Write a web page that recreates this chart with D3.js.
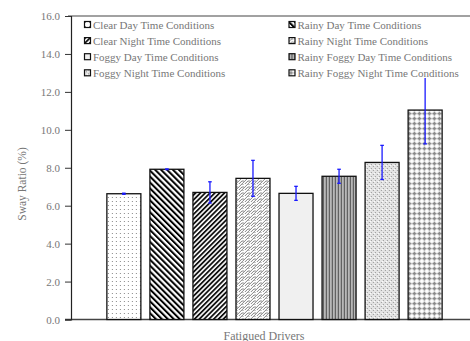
<!DOCTYPE html>
<html>
<head>
<meta charset="utf-8">
<script src="https://cdn.jsdelivr.net/npm/d3@7"></script>
<style>
  body { margin: 0; background: #fff; }
  text { font-family: "Liberation Serif", "Times New Roman", serif; fill: #777; }
</style>
</head>
<body>
<div id="chart"></div>
<script>
// chart data
var groups = ["Fatigued Drivers"];
var conditions = [
  "Clear Day Time Conditions", "Rainy Day Time Conditions",
  "Clear Night Time Conditions", "Rainy Night Time Conditions",
  "Foggy Day Time Conditions", "Rainy Foggy Day Time Conditions",
  "Foggy Night Time Conditions", "Rainy Foggy Night Time Conditions"
];
var swayRatio = [6.63, 7.92, 6.70, 7.44, 6.65, 7.55, 8.28, 11.04];
var swayError = [0.03, 0.02, 0.56, 0.95, 0.37, 0.37, 0.90, 1.78];
var yTicks = [0, 2, 4, 6, 8, 10, 12, 14, 16];

var margin = {top: 16, right: -8, bottom: 21.5, left: 71},
    width = 470 - margin.left - margin.right,
    height = 341 - margin.top - margin.bottom;

var svg = d3.select("#chart").append("svg")
    .attr("width", 470)
    .attr("height", 341);

// fill patterns, one per condition
var defs = svg.append("defs");
function pat(id, w, h, rot) {
  var p = defs.append("pattern").attr("id", id)
      .attr("patternUnits", "userSpaceOnUse")
      .attr("width", w).attr("height", h);
  if (rot) p.attr("patternTransform", "rotate(" + rot + ")");
  p.append("rect").attr("width", w).attr("height", h).attr("fill", "#fff");
  return p;
}
var p;
p = pat("p0", 4, 4);
p.append("rect").attr("x", 1).attr("y", 1).attr("width", 1).attr("height", 1).attr("fill", "#888");
p = pat("p1", 4.2, 4.2, -45);
p.append("rect").attr("width", 2).attr("height", 4.2).attr("fill", "#000");
p = pat("p2", 3.4, 3.4, 45);
p.append("rect").attr("width", 1.8).attr("height", 3.4).attr("fill", "#111");
p = pat("p3", 6, 6);
p.append("path").attr("d", "M0,6 L3,3 L5,3 M3,6 L6,3 M0,3 L3,0 L5,0").attr("stroke", "#777").attr("stroke-width", 0.9).attr("fill", "none");
p = pat("p4", 4, 4);
p.select("rect").attr("fill", "#f0f0f0");
p = pat("p5", 3, 3);
p.append("rect").attr("width", 1.2).attr("height", 3).attr("fill", "#555");
p.append("rect").attr("x", 1.2).attr("width", 1.8).attr("height", 3).attr("fill", "#b0b0b0");
p = pat("p6", 4, 4);
p.select("rect").attr("fill", "#e4e4e4");
p.append("rect").attr("x", 0).attr("y", 0).attr("width", 1).attr("height", 1).attr("fill", "#999");
p.append("rect").attr("x", 2).attr("y", 2).attr("width", 1).attr("height", 1).attr("fill", "#999");
p.append("rect").attr("x", 3).attr("y", 1).attr("width", 1).attr("height", 1).attr("fill", "#fff");
p = pat("p7", 5, 5);
p.append("rect").attr("x", 0.5).attr("y", 1.8).attr("width", 4).attr("height", 1.6).attr("fill", "#888");
p.append("rect").attr("x", 1.7).attr("y", 0.6).attr("width", 1.6).attr("height", 4).attr("fill", "#888");

var g = svg.append("g")
    .attr("transform", "translate(" + margin.left + "," + margin.top + ")");

var x0 = d3.scaleBand().domain(groups).range([0, width]).paddingOuter(0.107);
var x1 = d3.scaleBand().domain(conditions).range([0, x0.bandwidth()]).paddingInner(0.21);
var y = d3.scaleLinear().domain([0, 16]).range([height, 0]);

// plot frame
g.append("line").attr("x1", -3).attr("x2", width).attr("y1", 0).attr("y2", 0)
    .attr("stroke", "#444").attr("stroke-width", 1.2);
g.append("line").attr("x1", -6).attr("x2", width).attr("y1", height).attr("y2", height)
    .attr("stroke", "#444").attr("stroke-width", 1.5);

var yAxis = d3.axisLeft(y).tickValues(yTicks).tickSize(6).tickPadding(5)
    .tickFormat(d3.format(".1f"));
var ya = g.append("g").attr("class", "y axis").call(yAxis);
ya.select(".domain").attr("stroke", "#222").attr("stroke-width", 1.2);
ya.selectAll(".tick line").attr("stroke", "#333");
ya.selectAll("text").style("font-size", "11px").style("font-family", "Liberation Serif").attr("fill", "#777");

// bars
var grp = g.selectAll(".grp").data(groups).enter().append("g")
    .attr("transform", function(d) { return "translate(" + x0(d) + ",0)"; });

grp.selectAll("rect.bar")
    .data(conditions.map(function(c, i) { return {c: c, v: swayRatio[i], e: swayError[i], i: i}; }))
    .enter().append("rect")
    .attr("class", "bar")
    .attr("x", function(d) { return x1(d.c); })
    .attr("width", x1.bandwidth())
    .attr("y", function(d) { return y(d.v); })
    .attr("height", function(d) { return height - y(d.v); })
    .attr("fill", function(d) { return "url(#p" + d.i + ")"; })
    .attr("stroke", "#111")
    .attr("stroke-width", 1.3);

// error bars
var eb = grp.selectAll("g.err")
    .data(conditions.map(function(c, i) { return {c: c, v: swayRatio[i], e: swayError[i]}; }))
    .enter().append("g").attr("class", "err")
    .attr("stroke", "#1a1aff").attr("stroke-width", 1.3);
eb.append("line")
    .attr("x1", function(d) { return x1(d.c) + x1.bandwidth() / 2; })
    .attr("x2", function(d) { return x1(d.c) + x1.bandwidth() / 2; })
    .attr("y1", function(d) { return y(d.v + d.e); })
    .attr("y2", function(d) { return y(d.v - d.e); });
[1, -1].forEach(function(s) {
  eb.append("line")
    .attr("x1", function(d) { return x1(d.c) + x1.bandwidth() / 2 - 1.8; })
    .attr("x2", function(d) { return x1(d.c) + x1.bandwidth() / 2 + 1.8; })
    .attr("y1", function(d) { return y(d.v + s * d.e); })
    .attr("y2", function(d) { return y(d.v + s * d.e); });
});

// legend
var leg = svg.append("g").attr("transform", "translate(84,17)");
leg.append("rect").attr("x", 0).attr("y", 0).attr("width", 386).attr("height", 61).attr("fill", "#fff");
var item = leg.selectAll(".li").data(conditions).enter().append("g")
    .attr("transform", function(d, i) {
      return "translate(" + (i % 2 ? 204.5 : 0) + "," + (Math.floor(i / 2) * 16.1) + ")";
    });
item.append("rect")
    .attr("x", 0.5).attr("y", 4.5).attr("width", 6).attr("height", 6)
    .attr("fill", function(d, i) { return "url(#p" + i + ")"; })
    .attr("stroke", "#111").attr("stroke-width", 1.2);
item.append("text")
    .attr("x", 9).attr("y", 11.5)
    .style("font-size", "11px")
    .text(function(d) { return d; });

// axis titles
svg.append("text")
    .attr("transform", "rotate(-90)")
    .attr("x", -184).attr("y", 25.5)
    .attr("text-anchor", "middle")
    .style("font-size", "11.5px")
    .text("Sway Ratio (%)");

svg.append("text")
    .attr("x", 264).attr("y", 339.5)
    .attr("text-anchor", "middle")
    .style("font-size", "12px")
    .text("Fatigued Drivers");
</script>
</body>
</html>
